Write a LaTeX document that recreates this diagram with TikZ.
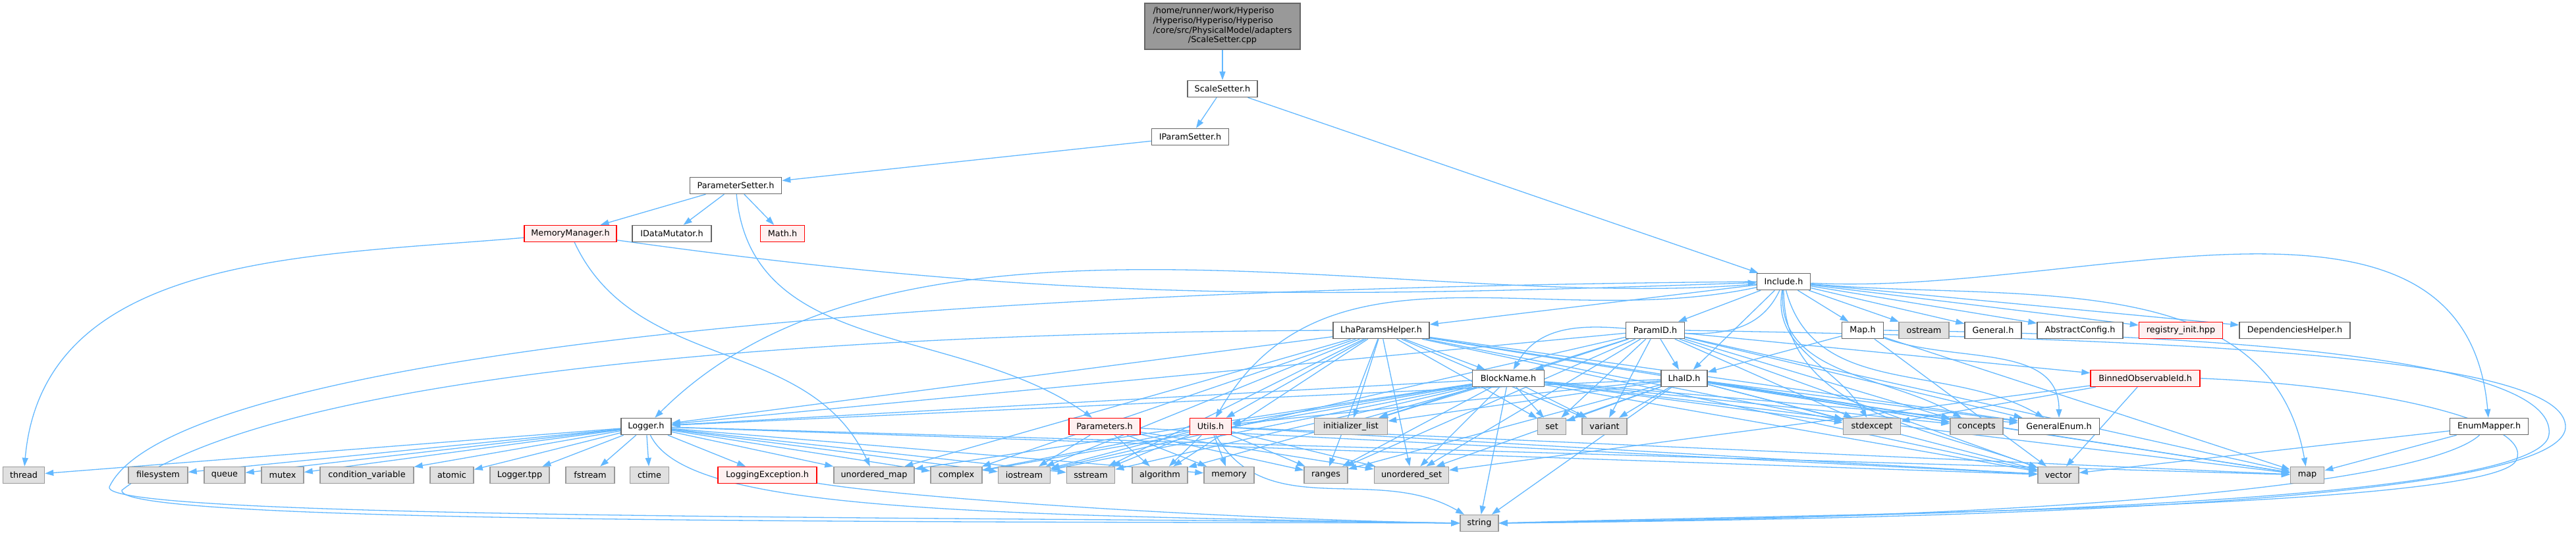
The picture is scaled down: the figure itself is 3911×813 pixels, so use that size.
\documentclass[tikz,border=0pt]{standalone}
\usepackage{fontspec}
\setmainfont{DejaVu Sans}
\usetikzlibrary{arrows.meta,backgrounds}

\definecolor{edgeblue}{HTML}{63B8FF}
\definecolor{boxline}{HTML}{666666}
\definecolor{sysfill}{HTML}{E0E0E0}
\definecolor{sysline}{HTML}{999999}
\definecolor{truncfill}{HTML}{FFF0F0}
\definecolor{rootfill}{HTML}{999999}

% one unit of the picture is 0.1pt
\tikzset{
  hdr/.style={draw=boxline, fill=white, line width=0.15pt, minimum height=2.5pt, inner sep=0pt, font=\fontsize{1.28}{1.47}\selectfont},
  sys/.style={hdr, draw=sysline, fill=sysfill},
  trunc/.style={hdr, draw=red, fill=truncfill},
  rootfile/.style={hdr, fill=rootfill},
  dep/.style={draw=edgeblue, line width=0.13pt, -{Triangle[length=1.3pt,width=0.9pt]}}
}

\begin{document}
\begin{tikzpicture}[x=0.1pt,y=0.1pt, every edge/.style={dep}]
\useasboundingbox (0,0) rectangle (3911,-813);

% file and the chain down to Include.h
\node[rootfile, minimum width=23.6pt, minimum height=7pt] (cpp) at (1856,-40) {\begin{tabular}{@{}l@{}}/home/runner/work/Hyperiso\\/Hyperiso/Hyperiso/Hyperiso\\/core/src/PhysicalModel/adapters\\\multicolumn{1}{@{}c@{}}{/ScaleSetter.cpp}\end{tabular}};
\node[hdr, minimum width=10.6pt] (scale) at (1856,-135) {ScaleSetter.h};
\node[hdr, minimum width=11.7pt] (iparam) at (1807,-208) {IParamSetter.h};
\node[hdr, minimum width=13.9pt] (psetter) at (1117,-282) {ParameterSetter.h};
\node[trunc, minimum width=14pt] (memmgr) at (866,-355) {MemoryManager.h};
\node[hdr, minimum width=12pt] (idata) at (1020,-355) {IDataMutator.h};
\node[trunc, minimum width=6.7pt] (math) at (1188,-355) {Math.h};
\node[hdr, minimum width=8.1pt] (include) at (2708,-428) {Include.h};

% headers under Include.h
\node[hdr, minimum width=14.6pt] (lhahelper) at (2097,-502) {LhaParamsHelper.h};
\node[hdr, minimum width=8.9pt] (paramid) at (2513,-502) {ParamID.h};
\node[hdr, minimum width=6.3pt] (maph) at (2828,-502) {Map.h};
\node[sys, minimum width=7.6pt] (ostream) at (2921,-502) {ostream};
\node[hdr, minimum width=8.6pt] (general) at (3026,-502) {General.h};
\node[hdr, minimum width=13pt] (abstract) at (3158,-502) {AbstractConfig.h};
\node[trunc, minimum width=12.7pt] (registry) at (3311,-502) {registry\_init.hpp};
\node[hdr, minimum width=16.8pt] (deps) at (3484,-502) {DependenciesHelper.h};
\node[hdr, minimum width=10.9pt] (blockname) at (2290,-575) {BlockName.h};
\node[hdr, minimum width=7pt] (lhaid) at (2557,-575) {LhaID.h};
\node[trunc, minimum width=16.6pt] (binned) at (3257,-575) {BinnedObservableId.h};

\node[hdr, minimum width=7.6pt] (logger) at (981,-648) {Logger.h};
\node[trunc, minimum width=10.8pt] (parameters) at (1677,-648) {Parameters.h};
\node[trunc, minimum width=6.3pt] (utils) at (1838,-648) {Utils.h};
\node[sys, minimum width=11.1pt] (initlist) at (2051,-648) {initializer\_list};
\node[sys, minimum width=4.3pt] (set) at (2356,-648) {set};
\node[sys, minimum width=6.8pt] (variant) at (2436,-648) {variant};
\node[sys, minimum width=8.7pt] (stdexcept) at (2842,-648) {stdexcept};
\node[sys, minimum width=8pt] (concepts) at (3001,-648) {concepts};
\node[hdr, minimum width=12.3pt] (genenum) at (3126,-648) {GeneralEnum.h};
\node[hdr, minimum width=11.9pt] (enummapper) at (3779,-648) {EnumMapper.h};

% standard headers
\node[sys, minimum width=6.3pt] (thread) at (36,-722) {thread};
\node[sys, minimum width=9pt] (filesystem) at (240,-722) {filesystem};
\node[sys, minimum width=6.2pt] (queue) at (341,-722) {queue};
\node[sys, minimum width=6.4pt] (mutex) at (429,-722) {mutex};
\node[sys, minimum width=14.2pt] (condvar) at (557,-722) {condition\_variable};
\node[sys, minimum width=6.6pt] (atomic) at (686,-722) {atomic};
\node[sys, minimum width=9pt] (loggertpp) at (789,-722) {Logger.tpp};
\node[sys, minimum width=7.4pt] (fstream) at (896,-722) {fstream};
\node[sys, minimum width=5.9pt] (ctime) at (986,-722) {ctime};
\node[trunc, minimum width=15pt] (logexc) at (1165,-722) {LoggingException.h};
\node[sys, minimum width=12.2pt] (umap) at (1327,-722) {unordered\_map};
\node[sys, minimum width=7.8pt] (complex) at (1452,-722) {complex};
\node[sys, minimum width=7.9pt] (iostream) at (1555,-722) {iostream};
\node[sys, minimum width=7.3pt] (sstream) at (1656,-722) {sstream};
\node[sys, minimum width=8.4pt] (algorithm) at (1761,-722) {algorithm};
\node[sys, minimum width=7.6pt] (memory) at (1866,-722) {memory};
\node[sys, minimum width=6.6pt] (ranges) at (2013,-722) {ranges};
\node[sys, minimum width=11.3pt] (uset) at (2143,-722) {unordered\_set};
\node[sys, minimum width=6.2pt] (vector) at (3125,-722) {vector};
\node[sys, minimum width=5.1pt] (map) at (3503,-722) {map};
\node[sys, minimum width=5.8pt] (string) at (2246,-795) {string};

\begin{scope}[on background layer]
\path (cpp) edge (scale)
      (scale) edge (iparam) edge (include)
      (iparam) edge (psetter)
      (psetter) edge (memmgr) edge (idata) edge (math) edge[out=-85,in=145] (parameters)
      (memmgr) edge[out=185,in=85] (thread) edge[out=-8,in=182] (include) edge[out=-65,in=115] (umap);

\path (include) edge (lhahelper) edge (paramid) edge (lhaid) edge (maph) edge (ostream)
      edge (general) edge (abstract) edge (registry) edge (deps)
      edge[out=-115,in=60] (blockname)
      edge[out=185,in=45,looseness=0.8] (logger)
      edge[out=192,in=60] (utils)
      edge[out=-100,in=120] (stdexcept)
      edge[out=-95,in=150] (concepts)
      edge[out=-75,in=150] (genenum)
      edge[out=-90,in=160] (vector)
      edge[out=-5,in=100] (map)
      edge[out=-3,in=95] (enummapper);
\draw[dep] (include.west) .. controls (1200,-440) and (250,-560) .. (166,-740) .. controls (150,-790) and (1500,-785) .. (string.west);

\path (lhahelper) edge (blockname) edge (logger) edge (utils) edge (initlist) edge (set)
      edge (variant) edge (stdexcept) edge (concepts) edge (genenum) edge (vector) edge (map)
      edge (iostream) edge (complex) edge (umap) edge (sstream) edge (algorithm)
      edge (ranges) edge (uset);
\draw[dep] (lhahelper.west) .. controls (1300,-505) and (420,-560) .. (185,-745) .. controls (172,-798) and (1500,-792) .. (string.west);

\path (paramid) edge (blockname) edge (lhaid) edge (logger) edge (initlist) edge (set)
      edge (variant) edge (stdexcept) edge (concepts) edge (genenum) edge (binned)
      edge (vector) edge (map) edge (ranges) edge (uset) edge (iostream);
\draw[dep] (paramid.east) .. controls (3300,-515) and (3900,-540) .. (3895,-650) .. controls (3885,-780) and (2700,-790) .. (string.east);

\path (blockname) edge (logger) edge (utils) edge (initlist) edge (set) edge (variant)
      edge (stdexcept) edge (concepts) edge (genenum) edge (vector) edge (map)
      edge (iostream) edge (ranges) edge (uset) edge (algorithm) edge (sstream)
      edge (complex) edge (umap) edge (string);

\path (lhaid) edge (logger) edge (utils) edge (initlist) edge (set) edge (variant)
      edge (stdexcept) edge (concepts) edge (genenum) edge (vector) edge (map)
      edge (ranges) edge (uset) edge (string);

\path (maph) edge (lhaid) edge[out=-20,in=90] (genenum) edge (map) edge (vector);
\draw[dep] (maph.east) .. controls (3500,-510) and (3880,-560) .. (3870,-660) .. controls (3860,-775) and (2700,-786) .. (string.east);

\path (binned) edge (stdexcept) edge (vector) edge (uset);
\draw[dep] (binned.east) .. controls (3600,-585) and (3850,-640) .. (3820,-700) .. controls (3780,-775) and (2700,-782) .. (string.east);

\path (enummapper) edge (map) edge (vector);
\draw[dep] (enummapper) .. controls (3700,-720) and (3300,-785) .. (string.east);

\path (logger) edge (thread) edge (filesystem) edge (queue) edge (mutex) edge (condvar)
      edge (atomic) edge (loggertpp) edge (fstream) edge (ctime) edge (logexc) edge (umap)
      edge (complex) edge (iostream) edge (sstream) edge (memory) edge (vector) edge (map);
\draw[dep] (logger) .. controls (1040,-770) and (1400,-782) .. (string.west);
\draw[dep] (logexc) .. controls (1400,-760) and (1900,-790) .. (string.west);

\path (utils) edge (complex) edge (iostream) edge (sstream) edge (algorithm) edge (memory)
      edge (ranges) edge (uset) edge (vector) edge (map) edge[out=-60,in=150] (string);

\path (parameters) edge (algorithm) edge (memory) edge (ranges) edge (uset)
      edge (iostream) edge (vector);
\end{scope}
\end{tikzpicture}
\end{document}
